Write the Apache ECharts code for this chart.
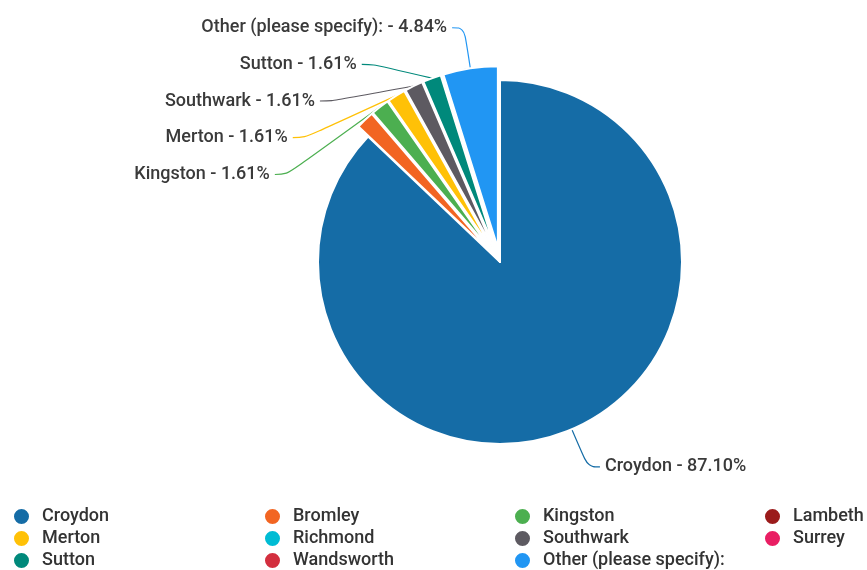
<!DOCTYPE html>
<html>
<head>
<meta charset="utf-8">
<script src="https://cdn.jsdelivr.net/npm/echarts@6/dist/echarts.min.js"></script>
<style>
  html, body { margin: 0; padding: 0; background: #fff; }
  #chart { width: 867px; height: 570px; }
</style>
</head>
<body>
<div id="chart"></div>
<script>
// 区域名称
var categories = ['Croydon', 'Bromley', 'Kingston', 'Lambeth', 'Merton', 'Richmond',
  'Southwark', 'Surrey', 'Sutton', 'Wandsworth', 'Other (please specify):']
// 回答数量
var counts = [54, 1, 1, 0, 1, 0, 1, 0, 1, 0, 3]
// 颜色
var colors = ['#156ca6', '#f26522', '#4caf50', '#9b1b1b', '#ffc107', '#00bcd4',
  '#5d5a61', '#e91e63', '#00897b', '#d32f3f', '#2196f3']

var chart = echarts.init(document.getElementById('chart'))

var seriesData = categories.map(function (name, i) {
  var item = { name: name, value: counts[i] }
  // 小块分离显示
  if (i > 0 && counts[i] > 0) item.selected = true
  // 零值和 Bromley 不显示标签
  if (counts[i] === 0 || name === 'Bromley') {
    item.label = { show: false }
    item.labelLine = { show: false }
  }
  return item
})

var ellipse = 'path://M50,0A50,50,0,1,1,50,100A50,50,0,1,1,50,0Z'

// 图例四列
var columns = [[0, 4, 8], [1, 5, 9], [2, 6, 10], [3, 7]]
var lefts = [12, 263, 513, 763]
var legends = columns.map(function (col, c) {
  return {
    orient: 'vertical',
    left: lefts[c],
    top: 507,
    height: 70,
    padding: 0,
    itemWidth: 17,
    itemHeight: 17,
    itemGap: 3,
    icon: ellipse,
    selectedMode: false,
    textStyle: {
      fontFamily: 'Roboto', fontSize: 18, fontWeight: 500, color: '#333',
      lineHeight: 18, padding: [0, 0, 0, 7]
    },
    data: col.map(function (i) { return categories[i] })
  }
})

var option = {
  color: colors,
  animation: false,
  legend: legends,
  series: [
    {
      type: 'pie',
      radius: 182,
      center: [500, 262],
      startAngle: 90,
      clockwise: true,
      selectedMode: 'multiple',
      selectedOffset: 14,
      data: seriesData,
      itemStyle: { borderColor: '#fff', borderWidth: 2 },
      select: { itemStyle: { borderColor: '#fff', borderWidth: 2 } },
      label: {
        fontFamily: 'Roboto',
        fontSize: 18,
        fontWeight: 500,
        color: '#3a3a3a',
        lineHeight: 34,
        formatter: function (p) {
          return p.name + ' - ' + p.percent.toFixed(2) + '%'
        }
      },
      labelLine: { length: 41, length2: 12, smooth: 0.4, lineStyle: { width: 1.2 } }
    }
  ]
}

chart.setOption(option, true)
</script>
</body>
</html>
